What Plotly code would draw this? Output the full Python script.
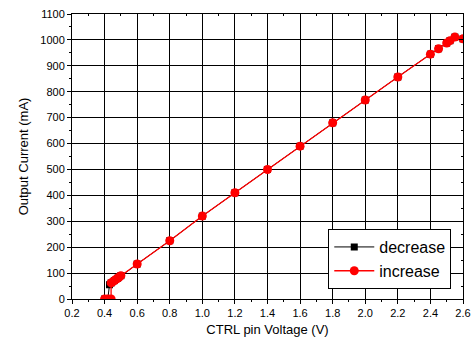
import plotly.graph_objects as go

# data
inc_x = [0.40, 0.42, 0.44, 0.44, 0.45, 0.46, 0.47, 0.48, 0.49, 0.50, 0.6, 0.8, 1.0, 1.2, 1.4, 1.6, 1.8, 2.0, 2.2, 2.4, 2.45, 2.5, 2.52, 2.55, 2.6]
inc_y = [0, 0, 0, 62, 66, 71, 76, 80, 85, 90, 135, 225, 320, 410, 500, 590, 680, 768, 857, 945, 966, 988, 997, 1011, 1004]
dec_x = [2.6, 2.55, 2.52, 2.5, 2.45, 2.4, 2.2, 2.0, 1.8, 1.6, 1.4, 1.2, 1.0, 0.8, 0.6, 0.50, 0.48, 0.46, 0.44, 0.43, 0.42, 0.40]
dec_y = [1004, 1011, 997, 988, 966, 945, 857, 768, 680, 590, 500, 410, 320, 225, 135, 90, 80, 71, 62, 55, 0, 0]

x_ticks = [0.2, 0.4, 0.6, 0.8, 1.0, 1.2, 1.4, 1.6, 1.8, 2.0, 2.2, 2.4, 2.6]
x_labels = ["0.2", "0.4", "0.6", "0.8", "1.0", "1.2", "1.4", "1.6", "1.8", "2.0", "2.2", "2.4", "2.6"]
y_ticks = [0, 100, 200, 300, 400, 500, 600, 700, 800, 900, 1000, 1100]

fig = go.Figure()
fig.add_trace(go.Scatter(x=dec_x, y=dec_y, mode="lines+markers", name="decrease",
                         line=dict(color="black", width=1),
                         marker=dict(symbol="square", size=7, color="black")))
fig.add_trace(go.Scatter(x=inc_x, y=inc_y, mode="lines+markers", name="increase",
                         line=dict(color="red", width=1.3),
                         marker=dict(symbol="circle", size=9, color="red")))
fig.add_trace(go.Scatter(x=[None], y=[None], xaxis="x2", yaxis="y2", showlegend=False, hoverinfo="skip"))

font = dict(family="Liberation Sans, Arial, sans-serif", color="black")
fig.update_layout(
    width=474, height=349,
    margin=dict(l=72, r=11, t=14, b=50, autoexpand=False),
    paper_bgcolor="white", plot_bgcolor="white",
    font=dict(size=11, **font),
    xaxis=dict(range=[0.2, 2.6], tickvals=x_ticks, ticktext=x_labels, automargin=False,
               showgrid=True, gridcolor="black", gridwidth=1,
               showline=True, linecolor="black", linewidth=1,
               ticks="outside", ticklen=4, tickcolor="black",
               minor=dict(dtick=0.1, tick0=0.2, ticks="outside", ticklen=2, tickcolor="black", showgrid=False),
               zeroline=False,
               title=dict(text="CTRL pin Voltage (V)", font=dict(size=13), standoff=6)),
    yaxis=dict(range=[0, 1100], tickvals=y_ticks, automargin=False,
               showgrid=True, gridcolor="black", gridwidth=1,
               showline=True, linecolor="black", linewidth=1,
               ticks="outside", ticklen=4, tickcolor="black",
               minor=dict(dtick=50, tick0=0, ticks="outside", ticklen=2, tickcolor="black", showgrid=False),
               zeroline=False,
               title=dict(text="Output Current (mA)", font=dict(size=13), standoff=8)),
    xaxis2=dict(range=[0.2, 2.6], overlaying="x", side="top", tickvals=x_ticks, automargin=False,
                showticklabels=False, showgrid=False, showline=True, linecolor="black", linewidth=1,
                ticks="inside", ticklen=4, tickcolor="black",
                minor=dict(dtick=0.1, tick0=0.2, ticks="inside", ticklen=2, tickcolor="black"),
                zeroline=False),
    yaxis2=dict(range=[0, 1100], overlaying="y", side="right", tickvals=y_ticks, automargin=False,
                showticklabels=False, showgrid=False, showline=True, linecolor="black", linewidth=1,
                ticks="inside", ticklen=4, tickcolor="black",
                minor=dict(dtick=50, tick0=0, ticks="inside", ticklen=2, tickcolor="black"),
                zeroline=False),
    legend=dict(x=0.97, y=0.035, xanchor="right", yanchor="bottom",
                bgcolor="white", bordercolor="black", borderwidth=1,
                font=dict(size=16, **font), itemwidth=40, tracegroupgap=0),
    showlegend=True,
)

fig.write_html("out.html", config={"displayModeBar": False},
               post_script="document.body.style.margin='0';document.body.style.padding='0';")
